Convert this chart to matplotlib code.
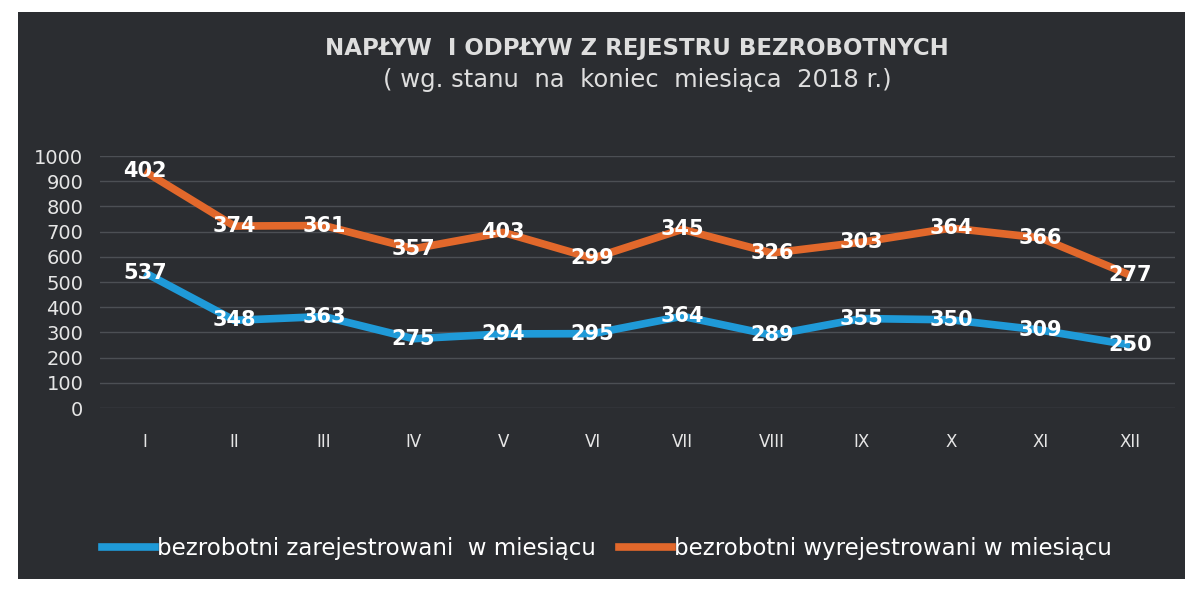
import matplotlib
matplotlib.use("Agg")
import matplotlib.pyplot as plt
from matplotlib.patches import Rectangle
from matplotlib.lines import Line2D
import numpy as np

months = ["I", "II", "III", "IV", "V", "VI", "VII", "VIII", "IX", "X", "XI", "XII"]
registered = [537, 348, 363, 275, 294, 295, 364, 289, 355, 350, 309, 250]
deregistered = [402, 374, 361, 357, 403, 299, 345, 326, 303, 364, 366, 277]
y_ticks = [0, 100, 200, 300, 400, 500, 600, 700, 800, 900, 1000]

BLUE = "#1f9ad8"
ORANGE = "#e2682b"
BG = "#2b2d31"

plt.rcParams["font.family"] = ["DejaVu Sans"]

fig = plt.figure(figsize=(11.94, 5.89), dpi=100, facecolor="white")

# dark panel of the scanned slide
fig.patches.append(Rectangle((18 / 1194, 10 / 589), 1167 / 1194, 567 / 589,
                             transform=fig.transFigure, facecolor=BG,
                             edgecolor="none", zorder=-5))

ax = fig.add_axes([100 / 1194, 1 - 408 / 589, 1075 / 1194, 252 / 589])
ax.set_facecolor("none")
ax.set_zorder(2)

x = np.arange(len(months))
stacked = np.array(registered) + np.array(deregistered)

ax.plot(x, registered, color=BLUE, linewidth=5.5, solid_capstyle="butt", zorder=3)
ax.plot(x, stacked, color=ORANGE, linewidth=5.5, solid_capstyle="butt", zorder=3)

for xi, v in zip(x, registered):
    ax.text(xi, v, str(v), color="white", fontsize=15, fontweight="bold",
            ha="center", va="center", zorder=4)
for xi, top, v in zip(x, stacked, deregistered):
    ax.text(xi, top, str(v), color="white", fontsize=15, fontweight="bold",
            ha="center", va="center", zorder=4)

ax.set_xlim(-0.5, len(months) - 0.5)
ax.set_ylim(0, 1000)
ax.set_yticks(y_ticks)
ax.set_yticklabels([str(t) for t in y_ticks], color="#e6e6e6", fontsize=14)
ax.set_xticks(x)
ax.set_xticklabels(months, color="#e6e6e6", fontsize=12)
ax.tick_params(axis="both", length=0)
ax.tick_params(axis="x", pad=18)
ax.tick_params(axis="y", pad=12)
ax.grid(axis="y", color="#55585e", linewidth=1, alpha=0.8)
for s in ax.spines.values():
    s.set_visible(False)

fig.text(637 / 1194, 1 - 48 / 589, "NAPŁYW  I ODPŁYW Z REJESTRU BEZROBOTNYCH",
         color="#dedede", fontsize=16.5, fontweight="bold", ha="center", va="center")
fig.text(637 / 1194, 1 - 80 / 589, "( wg. stanu  na  koniec  miesiąca  2018 r.)",
         color="#dedede", fontsize=17.5, ha="center", va="center")

handles = [Line2D([], [], color=BLUE, linewidth=5.5),
           Line2D([], [], color=ORANGE, linewidth=5.5)]
fig.legend(handles,
           ["bezrobotni zarejestrowani  w miesiącu",
            "bezrobotni wyrejestrowani w miesiącu"],
           loc="center", bbox_to_anchor=(607 / 1194, 1 - 549 / 589), ncol=2,
           frameon=False, fontsize=16.5, labelcolor="white", handlelength=2.3,
           handletextpad=0.1, columnspacing=1.0)

fig.savefig("out.png", dpi=100, facecolor=fig.get_facecolor())
